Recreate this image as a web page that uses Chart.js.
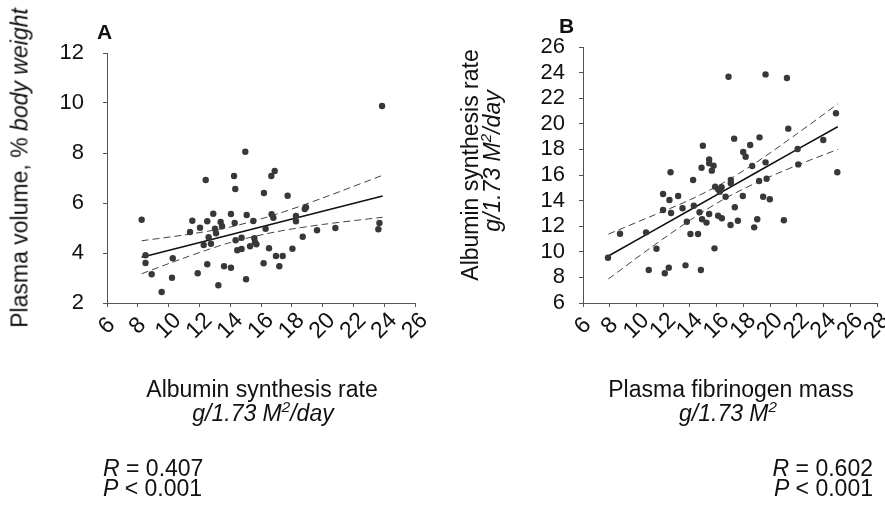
<!DOCTYPE html>
<html>
<head>
<meta charset="utf-8">
<script src="https://cdn.jsdelivr.net/npm/chart.js@4.4.1/dist/chart.umd.min.js"></script>
<style>
  html, body { margin: 0; padding: 0; background: #fff; }
  #fig { position: relative; width: 885px; height: 506px; overflow: hidden;
         font-family: 'Liberation Sans', Arial, Helvetica, sans-serif; color: #111; }
  #fig canvas { position: absolute; top: 0; }
  .t { position: absolute; white-space: nowrap; font-size: 23px; line-height: 23px; }
  .c { transform: translateX(-50%); }
  .r { transform: translateX(-100%); }
  .v { transform: translate(-50%, -50%) rotate(-90deg); }
  .lbl { font-weight: bold; font-size: 21px; line-height: 21px; }
  sup { font-size: 0.66em; line-height: 0; vertical-align: 0.58em; }
</style>
</head>
<body>
<div id="fig">
  <canvas id="chartA" width="442" height="506" style="left:0"></canvas>
  <canvas id="chartB" width="443" height="506" style="left:442px"></canvas>

  <div class="t lbl" style="left:97px;top:21px">A</div>
  <div class="t lbl" style="left:559px;top:15px">B</div>

  <div class="t v" style="left:20px;top:168px">Plasma volume, % <i>body weight</i></div>
  <div class="t v" style="left:470px;top:165px">Albumin synthesis rate</div>
  <div class="t v" style="left:492px;top:161px"><i>g/1.73 M<sup>2</sup>/day</i></div>

  <div class="t c" style="left:262px;top:378px">Albumin synthesis rate</div>
  <div class="t c" style="left:263px;top:402px"><i>g/1.73 M<sup>2</sup>/day</i></div>
  <div class="t c" style="left:731px;top:378px">Plasma fibrinogen mass</div>
  <div class="t c" style="left:728px;top:402px"><i>g/1.73 M<sup>2</sup></i></div>

  <div class="t" style="left:103px;top:457px"><i>R</i> = 0.407</div>
  <div class="t" style="left:103px;top:477px"><i>P</i> &lt; 0.001</div>
  <div class="t r" style="left:873px;top:457px"><i>R</i> = 0.602</div>
  <div class="t r" style="left:873px;top:477px"><i>P</i> &lt; 0.001</div>
</div>
<script>
// Panel A: albumin synthesis rate (x) vs plasma volume (y)
const synthA = [8.25, 8.5, 8.5, 8.9, 9.55, 10.27, 10.22, 11.39, 11.54, 11.89, 12.04, 12.28, 12.51, 12.51,
  12.6, 12.75, 12.9, 13.01, 13.08, 13.23, 13.38, 13.47, 13.6, 14.05, 14.05, 14.29, 14.35, 14.46, 14.74,
  14.74, 15.03, 15.07, 15.29, 15.5, 15.57, 15.61, 15.7, 16.17, 16.3, 16.52, 16.69, 16.8, 16.97, 17.19,
  17.41, 18.04, 18.27, 18.27, 18.71, 18.84, 18.92, 19.64, 20.83, 23.62, 23.69, 12.41, 14.33, 14.25,
  14.98, 16.19, 16.67, 16.89, 17.73, 23.86];
const plasmaVolA = [5.33, 3.91, 3.6, 3.15, 2.44, 3.79, 3.01, 4.84, 5.29, 3.19, 5.01, 4.32, 5.27, 3.55,
  4.63, 4.37, 5.57, 4.97, 4.79, 2.71, 5.24, 5.07, 3.47, 5.56, 3.41, 5.2, 4.51, 4.11, 4.61,
  4.16, 2.95, 5.52, 4.27, 5.28, 4.59, 4.43, 4.35, 3.59, 4.97, 4.19, 5.55, 5.41, 3.88, 3.47,
  3.88, 4.17, 5.48, 5.27, 4.65, 5.76, 5.83, 4.91, 5.0, 4.95, 5.2, 6.92, 6.56, 7.08,
  8.05, 6.4, 7.08, 7.28, 6.29, 9.88];
const fitXA = [8.25, 11, 14, 17, 20, 23.9];
const fitYA = [3.83, 4.26, 4.73, 5.2, 5.67, 6.28];
const upperA = [4.49, 4.72, 5.04, 5.55, 6.2, 7.11];
const lowerA = [3.17, 3.8, 4.42, 4.85, 5.14, 5.43];
const xTicksA = [6, 8, 10, 12, 14, 16, 18, 20, 22, 24, 26];
const yTicksA = [2, 4, 6, 8, 10, 12];

// Panel B: plasma fibrinogen mass (x) vs albumin synthesis rate (y)
const fibrinB = [7.87, 8.77, 10.72, 10.92, 11.5, 11.99, 11.99, 12.12, 12.42, 12.47, 12.59, 13.12, 13.45,
  13.67, 13.77, 14.04, 14.29, 14.61, 14.72, 14.82, 14.91, 15.24, 15.44, 15.84, 15.89, 16.11, 16.39,
  16.67, 17.04, 17.36, 17.59, 17.96, 18.81, 19.04, 19.48, 19.98, 21.03, 12.55, 14.24, 14.97, 14.87,
  15.44, 15.44, 15.77, 15.64, 16.89, 19.66, 21.26, 24.93, 21.36, 17.31, 19.21, 18.51, 17.99, 18.17,
  23.98, 22.06, 18.66, 19.66, 22.11, 25.03, 17.06, 17.06, 19.18, 19.74, 16.11, 16.37, 16.24];
const synthB = [9.54, 11.41, 11.52, 8.58, 10.24, 13.27, 14.52, 8.32, 8.76, 14.05, 13.03, 14.36, 13.4,
  8.94, 12.35, 11.39, 13.6, 11.39, 13.09, 8.58, 12.54, 12.28, 12.95, 10.27, 15.09, 12.82, 12.62,
  14.3, 12.09, 13.48, 12.43, 14.36, 11.91, 12.54, 14.3, 14.1, 12.46, 16.21, 15.61, 18.29, 16.57,
  17.22, 16.91, 16.73, 16.34, 23.68, 23.86, 23.58, 20.82, 19.62, 18.84, 18.94, 18.34, 17.8, 17.43,
  18.73, 18.03, 16.7, 16.99, 16.83, 16.21, 15.61, 15.35, 15.53, 15.71, 14.88, 15.04, 14.7];
const fitXB = [7.9, 11, 14, 16.5, 19, 22, 25.06];
const fitYB = [9.67, 11.5, 13.26, 14.74, 16.21, 17.98, 19.77];
const upperB = [11.38, 12.73, 14.06, 15.39, 17.01, 19.21, 21.55];
const lowerB = [7.88, 10.27, 12.46, 14.09, 15.41, 16.75, 18.0];
const xTicksB = [6, 8, 10, 12, 14, 16, 18, 20, 22, 24, 26, 28];
const yTicksB = [6, 8, 10, 12, 14, 16, 18, 20, 22, 24, 26];

const FONT = "'Liberation Sans', Arial, Helvetica, sans-serif";
const AXIS = '#555';

function zip(xs, ys) {
  return xs.map((x, i) => ({ x, y: ys[i] }));
}

/**
 * Draws the x tick labels slanted 45 degrees and centred under each tick.
 */
const slantTicks = {
  id: 'slantTicks',
  afterDraw(chart, args, opts) {
    const sx = chart.scales.x;
    const ctx = chart.ctx;
    ctx.save();
    ctx.font = opts.size + 'px ' + FONT;
    ctx.fillStyle = '#111';
    ctx.textAlign = 'center';
    ctx.textBaseline = 'middle';
    for (const v of opts.values) {
      ctx.save();
      ctx.translate(sx.getPixelForValue(v), sx.top + opts.offset);
      ctx.rotate(-Math.PI / 4);
      ctx.fillText(String(v), 0, 0);
      ctx.restore();
    }
    ctx.restore();
  }
};

function makePanel(canvas, p) {
  const dashed = { showLine: true, pointRadius: 0, borderColor: '#444', borderWidth: 1,
    borderDash: [7, 4], tension: 0.3, fill: false };
  return new Chart(canvas, {
    type: 'scatter',
    data: {
      datasets: [
        { data: zip(p.px, p.py), pointRadius: 3.2, pointBackgroundColor: '#383838',
          pointBorderColor: '#383838', pointBorderWidth: 0 },
        { data: zip(p.fitX, p.fitY), showLine: true, pointRadius: 0, borderColor: '#111',
          borderWidth: 1.6, tension: 0 },
        { data: zip(p.fitX, p.upper), ...dashed },
        { data: zip(p.fitX, p.lower), ...dashed },
      ],
    },
    options: {
      responsive: false,
      animation: false,
      devicePixelRatio: 1,
      layout: { padding: p.pad },
      plugins: {
        legend: { display: false },
        tooltip: { enabled: false },
        slantTicks: { values: p.xTicks, size: 23, offset: 23 },
      },
      scales: {
        x: {
          type: 'linear',
          min: p.xTicks[0],
          max: p.xTicks[p.xTicks.length - 1],
          afterBuildTicks: s => { s.ticks = p.xTicks.map(v => ({ value: v })); },
          afterFit: s => { s.height = p.xh; },
          ticks: { display: false, autoSkip: false },
          grid: { drawOnChartArea: false, drawTicks: true, tickLength: 4, color: AXIS },
          border: { display: true, color: AXIS, width: 1 },
        },
        y: {
          type: 'linear',
          min: p.yTicks[0],
          max: p.yTicks[p.yTicks.length - 1],
          afterBuildTicks: s => { s.ticks = p.yTicks.map(v => ({ value: v })); },
          afterFit: s => { s.width = p.yw; },
          ticks: { font: { family: FONT, size: 22 }, color: '#111', padding: p.ypad, autoSkip: false },
          grid: { drawOnChartArea: false, drawTicks: true, tickLength: 4, color: AXIS },
          border: { display: true, color: AXIS, width: 1 },
        },
      },
    },
    plugins: [slantTicks],
  });
}

makePanel(document.getElementById('chartA'), {
  px: synthA, py: plasmaVolA, fitX: fitXA, fitY: fitYA, upper: upperA, lower: lowerA,
  xTicks: xTicksA, yTicks: yTicksA,
  pad: { left: 0, top: 53, right: 27, bottom: 0 }, yw: 107, xh: 203, ypad: 19,
});

makePanel(document.getElementById('chartB'), {
  px: fibrinB, py: synthB, fitX: fitXB, fitY: fitYB, upper: upperB, lower: lowerB,
  xTicks: xTicksB, yTicks: yTicksB,
  pad: { left: 0, top: 47, right: 8, bottom: 0 }, yw: 141, xh: 203, ypad: 14,
});
</script>
</body>
</html>
